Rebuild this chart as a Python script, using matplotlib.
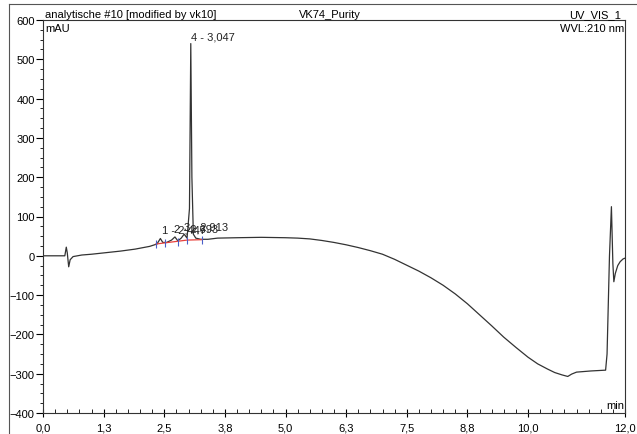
import numpy as np
import matplotlib
matplotlib.use("Agg")
from matplotlib import pyplot as plt
from matplotlib.ticker import MultipleLocator, FixedLocator

plt.rcParams['font.family'] = ['Liberation Sans', 'DejaVu Sans']

# chromatogram trace (min, mAU)
t_min = [0.0, 0.45, 0.48, 0.50, 0.53, 0.56, 0.62, 0.8, 1.0, 1.3, 1.6, 1.9, 2.2,
         2.35, 2.42, 2.47, 2.55, 2.65, 2.72, 2.78, 2.85, 2.91, 2.97, 3.02,
         3.047, 3.07, 3.10, 3.15, 3.25, 3.4, 3.6, 4.0, 4.5, 5.0, 5.25, 5.5,
         5.75, 6.0, 6.25, 6.5, 6.75, 7.0, 7.25, 7.5, 7.75, 8.0, 8.25, 8.5,
         8.75, 9.0, 9.25, 9.5, 9.75, 10.0, 10.2, 10.4, 10.55, 10.7, 10.82,
         10.9, 11.0, 11.3, 11.6, 11.63, 11.68, 11.72, 11.75, 11.77, 11.8,
         11.85, 11.9, 11.96, 12.0]
signal = [0, 0, 22, 8, -28, -10, -2, 2, 4, 8, 12, 17, 24,
          30, 44, 34, 34, 40, 48, 38, 45, 55, 45, 120,
          540, 200, 55, 45, 42, 42, 45, 46, 47, 46, 45, 43,
          39, 34, 28, 21, 13, 4, -9, -24, -39, -56, -75, -97,
          -122, -150, -178, -207, -233, -258, -275, -288, -297, -303, -307,
          -301, -296, -293, -291, -250, 0, 125, -20, -66, -45,
          -25, -15, -8, -6]

# integration baseline and peak delimiters
base_t = [2.33, 2.52, 2.78, 2.97, 3.27]
base_y = [30, 33, 37, 40, 41]

# peak labels
peak_t = [2.447, 2.693, 2.913, 3.047]
peak_y = [47, 52, 56, 540]
peak_lbl = ["1 - 2,447", "2 - 2,693", "3 - 2,913", "4 - 3,047"]

xtick_pos = [0.0, 1.25, 2.5, 3.75, 5.0, 6.25, 7.5, 8.75, 10.0, 12.0]
xtick_lbl = ["0,0", "1,3", "2,5", "3,8", "5,0", "6,3", "7,5", "8,8", "10,0", "12,0"]

fig = plt.figure(figsize=(6.37, 4.35), dpi=100)
ax = fig.add_axes([43/637, 1-414/435, (625-43)/637, (414-21)/435])

ax.plot(t_min, signal, color='#333333', lw=0.9)
ax.plot(base_t, base_y, color='#e8413c', lw=0.9)
ax.vlines(base_t, np.array(base_y)-11, np.array(base_y)+9, colors='#4a5fc8', lw=0.8)

for x, y, s in zip(peak_t, peak_y, peak_lbl):
    ax.text(x, y+6, s, fontsize=8, ha='left', va='bottom', color='#222222')

ax.set_xlim(0, 12)
ax.set_ylim(-400, 600)
ax.xaxis.set_major_locator(FixedLocator(xtick_pos))
ax.set_xticklabels(xtick_lbl)
ax.xaxis.set_minor_locator(MultipleLocator(0.25))
ax.yaxis.set_major_locator(MultipleLocator(100))
ax.yaxis.set_minor_locator(MultipleLocator(25))
ax.tick_params(axis='x', which='major', direction='inout', length=6, labelsize=8, pad=4)
ax.tick_params(axis='x', which='minor', direction='in', length=3)
ax.tick_params(axis='y', which='major', direction='out', length=5, labelsize=8, pad=1)
ax.tick_params(axis='y', which='minor', direction='out', length=2.5)
for sp in ax.spines.values():
    sp.set_linewidth(0.8)
    sp.set_color('#333333')

ax.text(0.004, 0.992, "mAU", transform=ax.transAxes, fontsize=8, ha='left', va='top')
ax.text(0.998, 0.992, "WVL:210 nm", transform=ax.transAxes, fontsize=8, ha='right', va='top')
ax.text(0.998, 0.008, "min", transform=ax.transAxes, fontsize=8, ha='right', va='bottom')

# header row above the plot frame
fig.text(45/637, 1-15/435, "analytische #10 [modified by vk10]", fontsize=8, ha='left', va='center')
fig.text(330/637, 1-15/435, "VK74_Purity", fontsize=8, ha='center', va='center')
fig.text(621/637, 1-15/435, "UV_VIS_1", fontsize=8, ha='right', va='center')

# page frame lines
fig.add_artist(plt.Line2D([9/637, 1.0], [1-5/435, 1-5/435], color='#555555', lw=0.8))
fig.add_artist(plt.Line2D([9/637, 9/637], [1-5/435, 0.0], color='#555555', lw=0.8))

fig.savefig("out.png", dpi=100)
